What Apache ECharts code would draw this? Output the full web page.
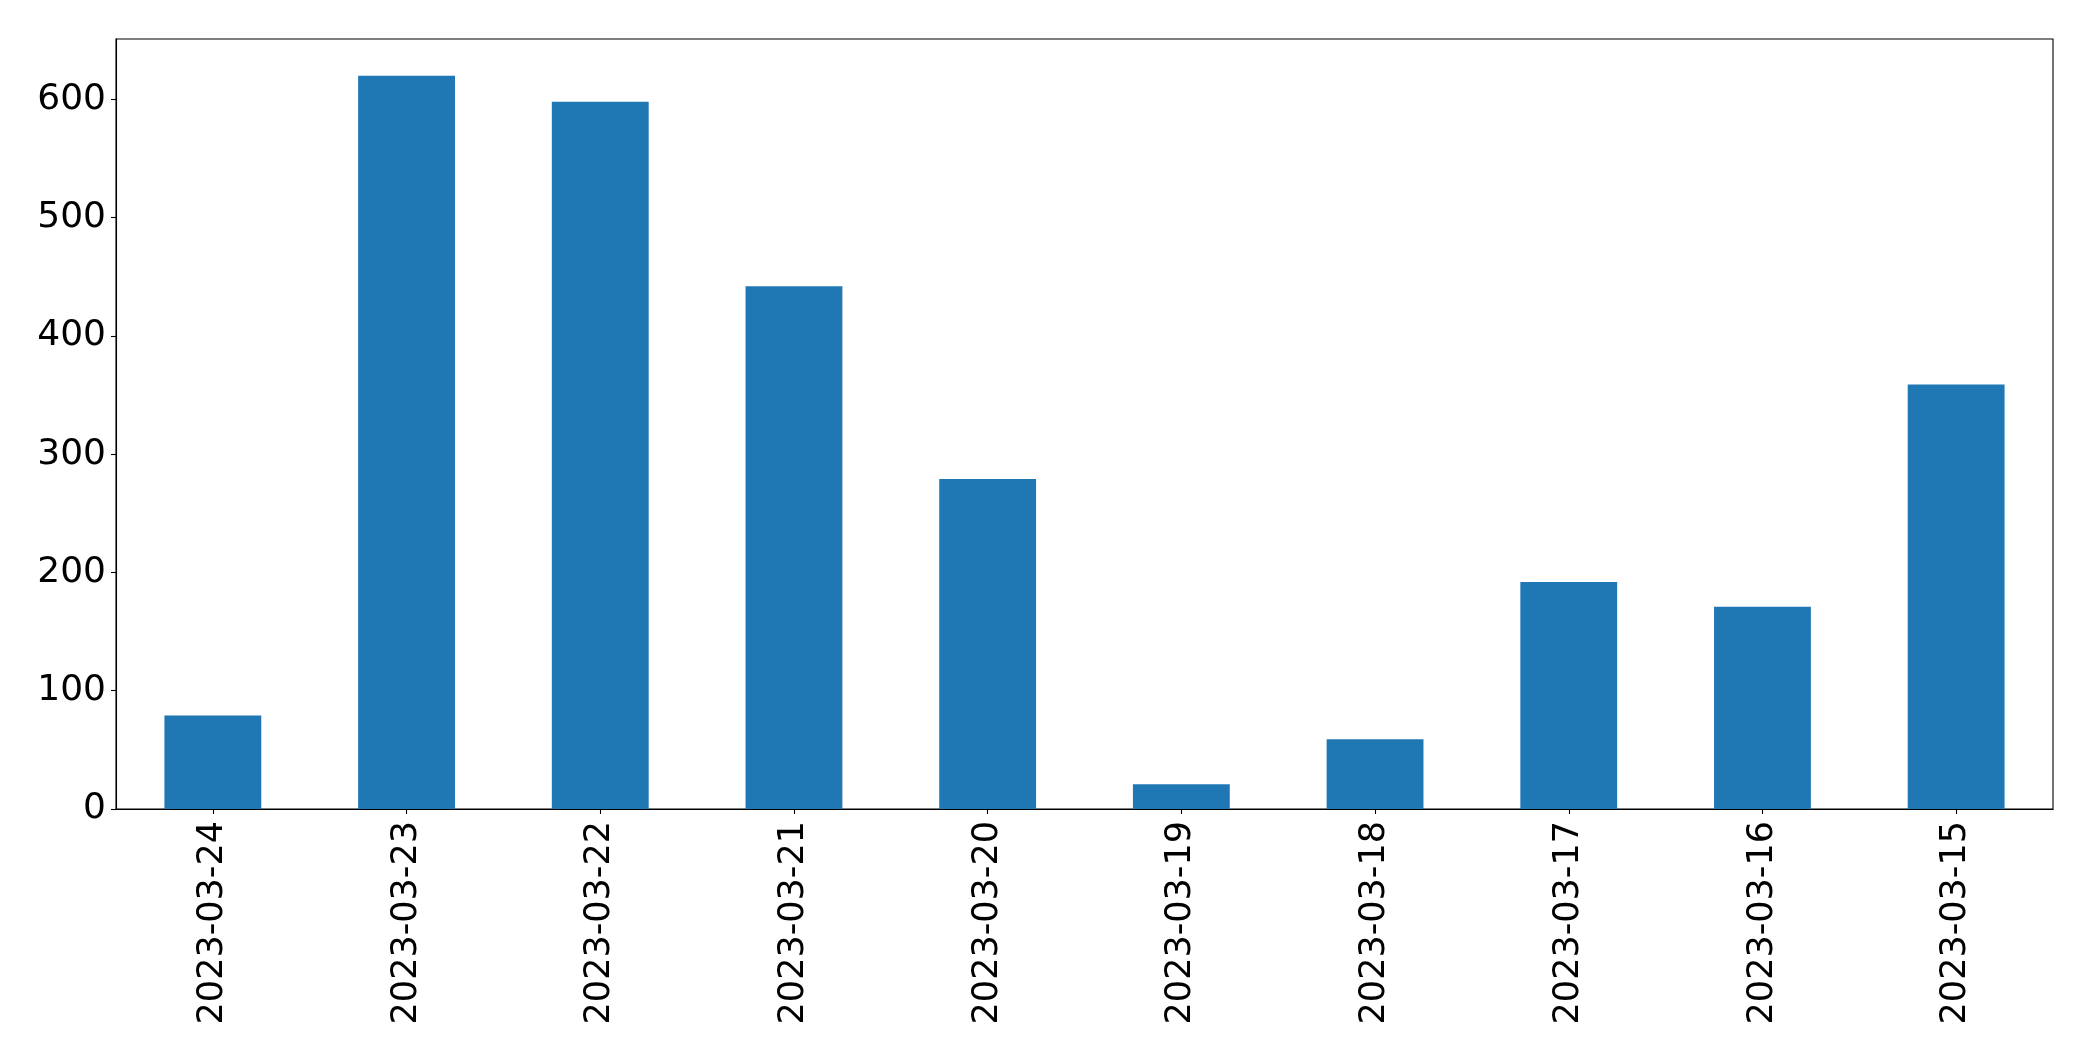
<!DOCTYPE html>
<html>
<head>
<meta charset="utf-8">
<script src="https://cdn.jsdelivr.net/npm/echarts@6/dist/echarts.min.js"></script>
<style>
html,body{margin:0;padding:0;background:#fff;}
#chart{width:2093px;height:1061px;}
</style>
</head>
<body>
<div id="chart"></div>
<script>
const categories = ["2023-03-24","2023-03-23","2023-03-22","2023-03-21","2023-03-20","2023-03-19","2023-03-18","2023-03-17","2023-03-16","2023-03-15"];
const values = [79, 620, 598, 442, 279, 21, 59, 192, 171, 359];
const yTicks = [0, 100, 200, 300, 400, 500, 600];
const yMax = 651;

const chart = echarts.init(document.getElementById('chart'), null, {renderer: 'canvas'});
const font = 'DejaVu Sans';
chart.setOption({
  animation: false,
  grid: {
    left: 116, right: 40, top: 39, bottom: 252,
    show: true, borderColor: '#000', borderWidth: 1.1, backgroundColor: 'transparent'
  },
  xAxis: {
    type: 'category',
    data: categories,
    boundaryGap: true,
    axisLine: {show: true, lineStyle: {color: '#000', width: 1.1}},
    axisTick: {show: true, alignWithLabel: true, length: 5, lineStyle: {color: '#000', width: 1.1}},
    axisLabel: {rotate: 90, margin: 12, fontFamily: font, fontSize: 35, color: '#000', interval: 0},
    splitLine: {show: false}
  },
  yAxis: {
    type: 'value',
    min: 0, max: yMax, interval: 100,
    axisLine: {show: true, lineStyle: {color: '#000', width: 1.1}},
    axisTick: {show: true, length: 5, lineStyle: {color: '#000', width: 1.1}, customValues: yTicks},
    axisLabel: {margin: 10, fontFamily: font, fontSize: 36, color: '#000', customValues: yTicks},
    splitLine: {show: false}
  },
  series: [{
    type: 'bar',
    data: values,
    barWidth: '50%',
    itemStyle: {color: '#1f77b4'}
  }]
});
</script>
</body>
</html>
